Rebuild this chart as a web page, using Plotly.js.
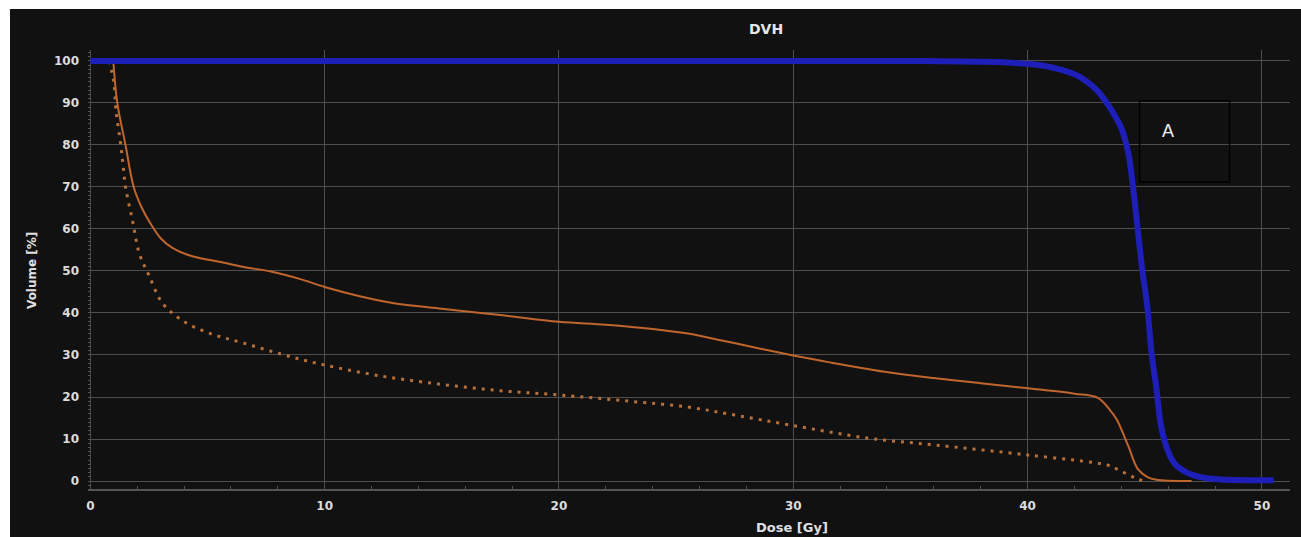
<!DOCTYPE html>
<html>
<head>
<meta charset="utf-8">
<script src="https://cdn.plot.ly/plotly-3.0.1.min.js"></script>
<style>
html,body{margin:0;padding:0;background:#ffffff;width:1301px;height:537px;overflow:hidden;}
#chart{position:absolute;left:10px;top:9px;width:1291px;height:528px;}
</style>
</head>
<body>
<div id="chart"></div>
<script>
// Target (blue) DVH
const ptvDose = [0, 35, 38, 40, 41, 42, 42.5, 43, 43.5, 44, 44.3, 44.5, 44.7, 44.9, 45.1, 45.3, 45.5, 45.7, 46, 46.3, 46.8, 47.5, 48.5, 50.5];
const ptvVol  = [100, 100, 99.8, 99.3, 98.5, 96.8, 95.2, 92.8, 89, 84, 78, 70, 60, 50, 42, 30, 22, 13, 7, 4, 2, 0.8, 0.3, 0.2];

// Organ (orange solid) DVH
const oarDose = [0.98, 1.15, 1.5, 1.85, 2.2, 2.6, 3.0, 3.5, 4.35, 5.5, 6.5, 7.75, 9, 10, 11.5, 12.9, 15, 17.5, 20, 22, 24, 25.5, 27, 28.5, 29.9, 31.5, 33.9, 36, 38, 40, 42, 43, 43.5, 43.8, 44.3, 44.7, 45.1, 45.5, 47];
const oarVol  = [100, 90, 80, 70, 65, 61, 57.8, 55.5, 53.5, 52.2, 51, 49.8, 48, 46.2, 44, 42.4, 41, 39.5, 37.9, 37.2, 36.2, 35.1, 33.4, 31.6, 30, 28.3, 26, 24.5, 23.3, 22.1, 20.8, 19.8, 17, 14.7, 8.3, 2.9, 1, 0.3, 0];

// Organ (orange dotted) DVH
const oar2Dose = [0.8, 1.0, 1.1, 1.3, 1.4, 1.5, 1.8, 2.1, 2.5, 3.07, 3.9, 5.07, 6.5, 8.6, 10, 12.4, 15, 17.5, 20, 23, 25.5, 27.5, 29.9, 33.2, 36, 40, 43.4, 43.8, 44.3, 44.7, 45];
const oar2Vol  = [100, 95, 88, 80, 75, 70, 62, 54, 49, 42.4, 38.3, 35.2, 32.9, 29.5, 27.6, 25, 23, 21.5, 20.5, 19, 17.6, 15.7, 13.3, 10.2, 8.6, 6.2, 3.8, 2.9, 1.5, 0.5, 0];

const xTicks = [0, 10, 20, 30, 40, 50];
const yTicks = [0, 10, 20, 30, 40, 50, 60, 70, 80, 90, 100];

const traces = [
  {x: oar2Dose, y: oar2Vol, mode: 'lines', line: {color: '#b8703a', width: 3, dash: '3px,6px', shape: 'spline'}, hoverinfo: 'skip'},
  {x: oarDose, y: oarVol, mode: 'lines', line: {color: '#c0652c', width: 2, shape: 'spline'}, hoverinfo: 'skip'},
  {x: ptvDose, y: ptvVol, mode: 'lines', line: {color: '#1e1eb8', width: 6, shape: 'spline'}, hoverinfo: 'skip'}
];

const FF = 'DejaVu Sans, Verdana, sans-serif';
const tickFont = {family: FF, size: 12, color: '#dcdcdc', weight: 'bold'};

const layout = {
  width: 1291, height: 528,
  paper_bgcolor: '#111111', plot_bgcolor: '#111111',
  margin: {l: 78, r: 11, t: 41, b: 48},
  showlegend: false,
  xaxis: {
    range: [-0.1, 51.2], tickvals: xTicks, ticktext: xTicks.map(String),
    showgrid: true, gridcolor: '#4e4e4e', gridwidth: 1, zeroline: false,
    showline: true, linecolor: '#555555', linewidth: 1.5,
    ticks: '', tickfont: tickFont, ticklabelstandoff: 5,
    minor: {dtick: 2, ticks: 'inside', ticklen: 3, tickcolor: '#505050', showgrid: false}
  },
  yaxis: {
    range: [-1.9, 102.6], tickvals: yTicks, ticktext: yTicks.map(String),
    showgrid: true, gridcolor: '#4e4e4e', gridwidth: 1, zeroline: false,
    showline: false,
    ticks: '', tickfont: tickFont, ticklabelstandoff: 8,
    minor: {dtick: 1, ticks: 'inside', ticklen: 2, tickcolor: '#555555', showgrid: false}
  },
  shapes: [
    {type: 'rect', xref: 'x', yref: 'y', x0: 44.78, x1: 48.62, y0: 71.2, y1: 90.5, line: {color: '#000000', width: 1.5}, fillcolor: 'rgba(0,0,0,0)'}
  ],
  annotations: [
    {text: 'DVH', xref: 'paper', yref: 'paper', x: (766-88)/(1290-88), y: 1, yshift: 21, showarrow: false, xanchor: 'center', yanchor: 'middle', font: {family: FF, size: 14, color: '#e6e6e6', weight: 'bold'}},
    {text: 'Dose [Gy]', xref: 'paper', yref: 'paper', x: (792-88)/(1290-88), y: 0, yshift: -38, showarrow: false, xanchor: 'center', yanchor: 'middle', font: {family: FF, size: 13, color: '#e0e0e0', weight: 'bold'}},
    {text: 'Volume [%]', xref: 'paper', yref: 'paper', x: 0, xshift: -56, y: (489-271)/(489-50), showarrow: false, textangle: -90, xanchor: 'center', yanchor: 'middle', font: {family: FF, size: 12, color: '#e0e0e0', weight: 'bold'}},
    {text: 'A', xref: 'x', yref: 'y', x: 46.0, y: 83.4, showarrow: false, font: {family: 'Liberation Sans, Arial, sans-serif', size: 18, color: '#f0f0f0'}}
  ]
};

Plotly.newPlot('chart', traces, layout, {displayModeBar: false, staticPlot: true});
</script>
</body>
</html>
